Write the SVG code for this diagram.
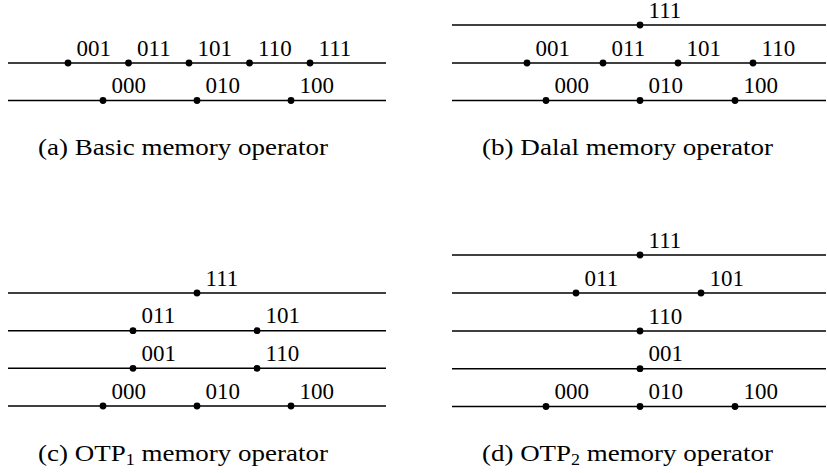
<svg xmlns="http://www.w3.org/2000/svg" width="827" height="473" viewBox="0 0 827 473">
<style>
.lv{stroke:#000;stroke-width:1.5;fill:none}
.pt circle{fill:#000}
.pt text,.cap{font-family:"Liberation Serif","DejaVu Serif",serif;fill:#000}
.pt text{font-size:23px}
.cap{font-size:24px}
</style>
<rect width="827" height="473" fill="#fff"/>
<g id="levels">
<line class="lv" x1="8" y1="63" x2="386" y2="63"/>
<line class="lv" x1="8" y1="100.5" x2="386" y2="100.5"/>
<line class="lv" x1="452" y1="25" x2="826" y2="25"/>
<line class="lv" x1="452" y1="63" x2="826" y2="63"/>
<line class="lv" x1="452" y1="100.5" x2="826" y2="100.5"/>
<line class="lv" x1="8" y1="293" x2="386" y2="293"/>
<line class="lv" x1="8" y1="330.7" x2="386" y2="330.7"/>
<line class="lv" x1="8" y1="368.3" x2="386" y2="368.3"/>
<line class="lv" x1="8" y1="406" x2="386" y2="406"/>
<line class="lv" x1="452" y1="255" x2="826" y2="255"/>
<line class="lv" x1="452" y1="293" x2="826" y2="293"/>
<line class="lv" x1="452" y1="331" x2="826" y2="331"/>
<line class="lv" x1="452" y1="368.7" x2="826" y2="368.7"/>
<line class="lv" x1="452" y1="406.5" x2="826" y2="406.5"/>
</g>
<g id="panel-a">
<g id="a-001" class="pt"><circle cx="68" cy="63" r="3.4"/><text x="76.5" y="55.5">001</text></g>
<g id="a-011" class="pt"><circle cx="128.5" cy="63" r="3.4"/><text x="137" y="55.5">011</text></g>
<g id="a-101" class="pt"><circle cx="189" cy="63" r="3.4"/><text x="197.5" y="55.5">101</text></g>
<g id="a-110" class="pt"><circle cx="249.5" cy="63" r="3.4"/><text x="258" y="55.5">110</text></g>
<g id="a-111" class="pt"><circle cx="310" cy="63" r="3.4"/><text x="318.5" y="55.5">111</text></g>
<g id="a-000" class="pt"><circle cx="103" cy="100.5" r="3.4"/><text x="111.5" y="93">000</text></g>
<g id="a-010" class="pt"><circle cx="197" cy="100.5" r="3.4"/><text x="205.5" y="93">010</text></g>
<g id="a-100" class="pt"><circle cx="291" cy="100.5" r="3.4"/><text x="299.5" y="93">100</text></g>
<text class="cap" x="38" y="155" textLength="290" lengthAdjust="spacingAndGlyphs">(a) Basic memory operator</text>
</g>
<g id="panel-b">
<g id="b-111" class="pt"><circle cx="640" cy="25" r="3.4"/><text x="648.5" y="17.5">111</text></g>
<g id="b-001" class="pt"><circle cx="527" cy="63" r="3.4"/><text x="535.5" y="55.5">001</text></g>
<g id="b-011" class="pt"><circle cx="603" cy="63" r="3.4"/><text x="611.5" y="55.5">011</text></g>
<g id="b-101" class="pt"><circle cx="678" cy="63" r="3.4"/><text x="686.5" y="55.5">101</text></g>
<g id="b-110" class="pt"><circle cx="753" cy="63" r="3.4"/><text x="761.5" y="55.5">110</text></g>
<g id="b-000" class="pt"><circle cx="546" cy="100.5" r="3.4"/><text x="554.5" y="93">000</text></g>
<g id="b-010" class="pt"><circle cx="640" cy="100.5" r="3.4"/><text x="648.5" y="93">010</text></g>
<g id="b-100" class="pt"><circle cx="735" cy="100.5" r="3.4"/><text x="743.5" y="93">100</text></g>
<text class="cap" x="482" y="155" textLength="291" lengthAdjust="spacingAndGlyphs">(b) Dalal memory operator</text>
</g>
<g id="panel-c">
<g id="c-111" class="pt"><circle cx="197" cy="293" r="3.4"/><text x="205.5" y="285.5">111</text></g>
<g id="c-011" class="pt"><circle cx="133" cy="330.7" r="3.4"/><text x="141.5" y="323.2">011</text></g>
<g id="c-101" class="pt"><circle cx="257" cy="330.7" r="3.4"/><text x="265.5" y="323.2">101</text></g>
<g id="c-001" class="pt"><circle cx="133" cy="368.3" r="3.4"/><text x="141.5" y="360.8">001</text></g>
<g id="c-110" class="pt"><circle cx="257" cy="368.3" r="3.4"/><text x="265.5" y="360.8">110</text></g>
<g id="c-000" class="pt"><circle cx="103" cy="406" r="3.4"/><text x="111.5" y="398.5">000</text></g>
<g id="c-010" class="pt"><circle cx="197" cy="406" r="3.4"/><text x="205.5" y="398.5">010</text></g>
<g id="c-100" class="pt"><circle cx="291" cy="406" r="3.4"/><text x="299.5" y="398.5">100</text></g>
<text class="cap" x="38" y="461" textLength="290" lengthAdjust="spacingAndGlyphs">(c) OTP<tspan font-size="16" dy="4">1</tspan><tspan dy="-4"> memory operator</tspan></text>
</g>
<g id="panel-d">
<g id="d-111" class="pt"><circle cx="640" cy="255" r="3.4"/><text x="648.5" y="247.5">111</text></g>
<g id="d-011" class="pt"><circle cx="576" cy="293" r="3.4"/><text x="584.5" y="285.5">011</text></g>
<g id="d-101" class="pt"><circle cx="701" cy="293" r="3.4"/><text x="709.5" y="285.5">101</text></g>
<g id="d-110" class="pt"><circle cx="640" cy="331" r="3.4"/><text x="648.5" y="323.5">110</text></g>
<g id="d-001" class="pt"><circle cx="640" cy="368.7" r="3.4"/><text x="648.5" y="361.2">001</text></g>
<g id="d-000" class="pt"><circle cx="546" cy="406.5" r="3.4"/><text x="554.5" y="399">000</text></g>
<g id="d-010" class="pt"><circle cx="640" cy="406.5" r="3.4"/><text x="648.5" y="399">010</text></g>
<g id="d-100" class="pt"><circle cx="735" cy="406.5" r="3.4"/><text x="743.5" y="399">100</text></g>
<text class="cap" x="482" y="461" textLength="291" lengthAdjust="spacingAndGlyphs">(d) OTP<tspan font-size="16" dy="4">2</tspan><tspan dy="-4"> memory operator</tspan></text>
</g>
</svg>
